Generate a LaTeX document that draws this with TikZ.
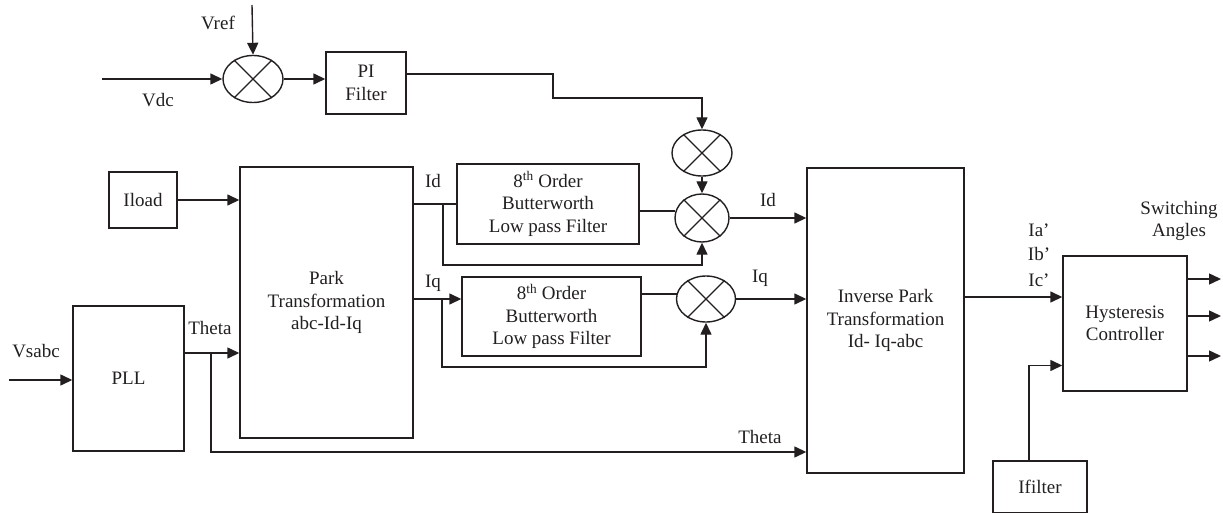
\documentclass[tikz,border=0pt]{standalone}
\usepackage{fontspec}
\setmainfont{Liberation Serif}
\usetikzlibrary{arrows.meta,shapes.geometric,calc}
\definecolor{ink}{RGB}{35,31,32}
\begin{document}
\begin{tikzpicture}[x=1pt,y=-1pt,
  every node/.style={text=ink,font=\fontsize{19}{22.5}\selectfont},
  blk/.style={draw=ink,line width=1.4pt,inner sep=0pt,align=center},
  mix/.style={ellipse,draw=ink,line width=1.4pt,inner sep=0pt},
  ln/.style={draw=ink,line width=1.4pt},
  arr/.style={ln,-{Triangle[length=12pt,width=11pt]}}]
\useasboundingbox (0,0) rectangle (1223,513);
% blocks
\node[blk,minimum width=80pt,minimum height=62pt] (pi) at (366,83) {PI\\Filter};
\node[blk,minimum width=68pt,minimum height=56pt] (iload) at (143,200) {Iload};
\node[blk,minimum width=173pt,minimum height=271pt] (park) at (326.5,302.5) {Park\\Transformation\\abc-Id-Iq};
\node[blk,minimum width=111pt,minimum height=145pt] (pll) at (128.5,378.5) {PLL};
\node[blk,minimum width=182pt,minimum height=80pt] (bw1) at (548,204) {8\textsuperscript{th} Order\\Butterworth\\Low pass Filter};
\node[blk,minimum width=179pt,minimum height=79pt] (bw2) at (551.5,316.5) {8\textsuperscript{th} Order\\Butterworth\\Low pass Filter};
\node[blk,minimum width=157pt,minimum height=305pt] (inv) at (885.5,320.5) {Inverse Park\\Transformation\\Id- Iq-abc};
\node[blk,minimum width=124pt,minimum height=135pt] (hyst) at (1125,323.5) {Hysteresis\\Controller};
\node[blk,minimum width=94pt,minimum height=52pt] (ifl) at (1040,487) {Ifilter};
% mixers
\foreach \n/\x/\y/\w/\h in {s1/253/79/60/47, s2/702/153/60/46, s3/702/218/54/48, s4/706/299/59/46}{
  \node[mix,minimum width=\w pt,minimum height=\h pt] (\n) at (\x,\y) {};
  \draw[ln,line width=1.1pt] (\n.45) -- (\n.225) (\n.135) -- (\n.315);
}
% coordinates
\coordinate (vr) at (252,5);
\coordinate (vd) at (102,79);
\coordinate (k1) at (553,98);
\coordinate (bd) at (443,204);
\coordinate (bq) at (442,299);
\coordinate (th) at (211,353);
\coordinate (tb) at (211,452);
\coordinate (vin) at (9,380);
\coordinate (ho) at (0,297);
\coordinate (o1) at (1221,279);
\coordinate (o2) at (1221,316);
\coordinate (o3) at (1221,356);
% connectors
\draw[arr] (vr) -- (s1.north);
\draw[arr] (vd) -- (s1.west);
\draw[arr] (s1.east) -- (pi.west |- s1.east);
\draw[arr] ($(pi.east)+(0,-9)$) -| (k1) -| (s2.north);
\draw[arr] (s2.south) -- (s3.north);
\draw[arr] (iload.east) -- (park.west |- iload.east);
\draw[ln] (park.east |- bw1.west) -- (bw1.west);
\draw[ln] (bw1.east |- s3.165) -- (s3.165);
\draw[arr] (bd) -- ++(0,61) -| (s3.south);
\draw[arr] (s3.east) -- (inv.west |- s3.east);
\draw[ln] (park.east |- bq) -- (bq);
\draw[arr] (bq) -- (bw2.west |- bq);
\draw[ln] (bw2.east |- s4.170) -- (s4.170);
\draw[arr] (bq) -- ++(0,68) -| (s4.south);
\draw[arr] (s4.east) -- (inv.west |- s4.east);
\draw[arr] (vin) -- (pll.west |- vin);
\draw[arr] (pll.east |- th) -- (park.west |- th);
\draw[arr] (th) -- (tb) -- (inv.west |- tb);
\draw[arr] (inv.east |- ho) -- (hyst.west |- ho);
\draw[arr] ($(ifl.north)+(-11,0)$) |- ($(hyst.west)+(0,42)$);
\draw[arr] (hyst.east |- o1) -- (o1);
\draw[arr] (hyst.east |- o2) -- (o2);
\draw[arr] (hyst.east |- o3) -- (o3);
% labels
\node (lvref) at (218,23) {Vref};
\node (lvdc) at (158,100) {Vdc};
\node (lid1) at (433,181) {Id};
\node (liq1) at (433,283) {Iq};
\node (lth1) at (210,328) {Theta};
\node (lvs) at (36,351) {Vsabc};
\node (lid2) at (768,200) {Id};
\node (liq2) at (760,278) {Iq};
\node (lth2) at (760,437) {Theta};
\node (lia) at (1039,230) {Ia’};
\node (lib) at (1039,254) {Ib’};
\node (lic) at (1039,280) {Ic’};
\node[align=center] (lsw) at (1179,221) {Switching\\Angles};
\end{tikzpicture}
\end{document}
